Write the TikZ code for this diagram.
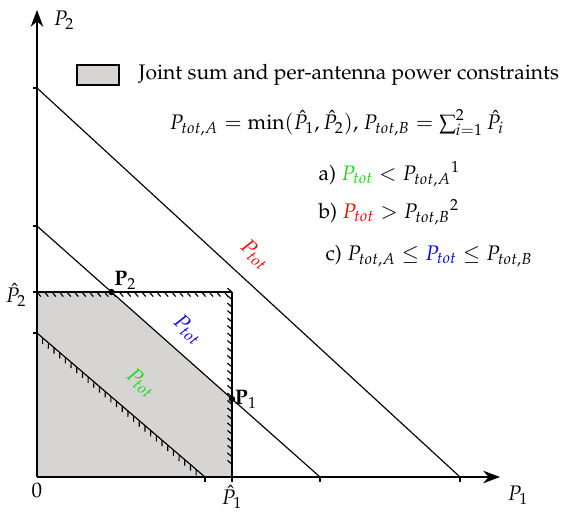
\documentclass[tikz,border=0pt]{standalone}
\usepackage[T1]{fontenc}
\usepackage{amsmath,amssymb}
\usepackage{mathpazo}
\usepackage{tikz}
\usetikzlibrary{arrows.meta, decorations.pathreplacing, calc}
\definecolor{regiongray}{RGB}{214,213,211}
\definecolor{ptotgreen}{RGB}{20,220,20}
\tikzset{
    every path/.style={
        line width=0.55pt
    },
    axis/.style={
        line width=0.8pt,
        -{Stealth[length=8pt,width=6pt]}
    },
    hatched/.style={
        postaction={draw, decorate},
        decoration={border, segment length=0.125cm, amplitude=0.1cm, angle=#1}
    },
    corner/.style={
        circle,
        fill=black,
        inner sep=0pt,
        minimum size=3pt
    }
}

\begin{document}
\begin{tikzpicture}[x=0.0167cm, y=0.0167cm]
            % Frame :
            \useasboundingbox (-37,-35) rectangle (526,477);

            % Points
            \coordinate (origin) at (0,0);
            \coordinate (xend) at (463,0);
            \coordinate (yend) at (0,467);
            \coordinate (p1hat) at (195,0);
            \coordinate (p2hat) at (0,185);
            \coordinate (corner) at (195,185);
            \coordinate (greenA) at (0,144);
            \coordinate (greenB) at (168,0);
            \coordinate (blueA) at (0,251);
            \coordinate (blueB) at (283,0);
            \coordinate (redA) at (0,389);
            \coordinate (redB) at (423,0);
            \coordinate (pTwo) at ($(blueA)!{66/251}!(blueB)$);
            \coordinate (pOne) at ($(blueA)!{195/283}!(blueB)$);

            % Feasible region
            \fill [regiongray] (origin) -- (p2hat) -- (pTwo) -- (pOne) -- (p1hat) -- cycle;
            \draw [hatched=-50] (p2hat) -- (corner);
            \draw [hatched=-130] (corner) -- (p1hat);

            % Sum power lines
            \draw [hatched=-50] (greenA) -- (greenB);
            \draw (blueA) -- (blueB);
            \draw (redA) -- (redB);

            % Ticks
            \foreach \pt in {greenA, blueA, redA, p2hat}
                \draw (\pt) -- ++(-4,0);
            \foreach \pt in {greenB, blueB, redB, p1hat}
                \draw (\pt) -- ++(0,-5);

            % Axes
            \draw [axis] (origin) -- (xend);
            \draw [axis] (origin) -- (yend);
            \node (xlabel) at (481,-18) {$P_1$};
            \node (ylabel) at (27,457) {$P_2$};
            \node (zero) at (0,-13) {$0$};
            \node (p1label) at (195,-20) {$\hat{P}_1$};
            \node (p2label) at (-21,182) {$\hat{P}_2$};

            % Corner points
            \node (pTwoDot) [corner] at (pTwo) {};
            \node (pOneDot) [corner] at (pOne) {};
            \node (pTwoText) [above right, inner sep=1pt] at (pTwoDot) {$\mathbf{P}_2$};
            \node (pOneText) [right, inner sep=1pt] at (pOneDot) {$\mathbf{P}_1$};

            % Line labels
            \node (redLabel) [red, rotate=-42] at (218,222) {$P_{tot}$};
            \node (blueLabel) [blue, rotate=-42] at (151,147) {$P_{tot}$};
            \node (greenLabel) [ptotgreen, rotate=-41] at (104,94) {$P_{tot}$};

            % Legend
            \draw [fill=regiongray] (40,392) rectangle (82,412);
            \node (legend) [anchor=west] at (94,402) {Joint sum and per-antenna power constraints};
            \node (defs) at (300,354) {$P_{tot,A}=\min(\hat{P}_1,\hat{P}_2)$, $P_{tot,B}=\sum_{i=1}^{2}\hat{P}_i$};
            \node (caseA) [anchor=west] at (274,303) {a) $\textcolor{ptotgreen}{P_{tot}}<{P_{tot,A}}^{1}$};
            \node (caseB) [anchor=west] at (274,265) {b) $\textcolor{red}{P_{tot}}>{P_{tot,B}}^{2}$};
            \node (caseC) [anchor=west] at (281,221) {c) $P_{tot,A}\le\textcolor{blue}{P_{tot}}\le P_{tot,B}$};
\end{tikzpicture}
\end{document}
